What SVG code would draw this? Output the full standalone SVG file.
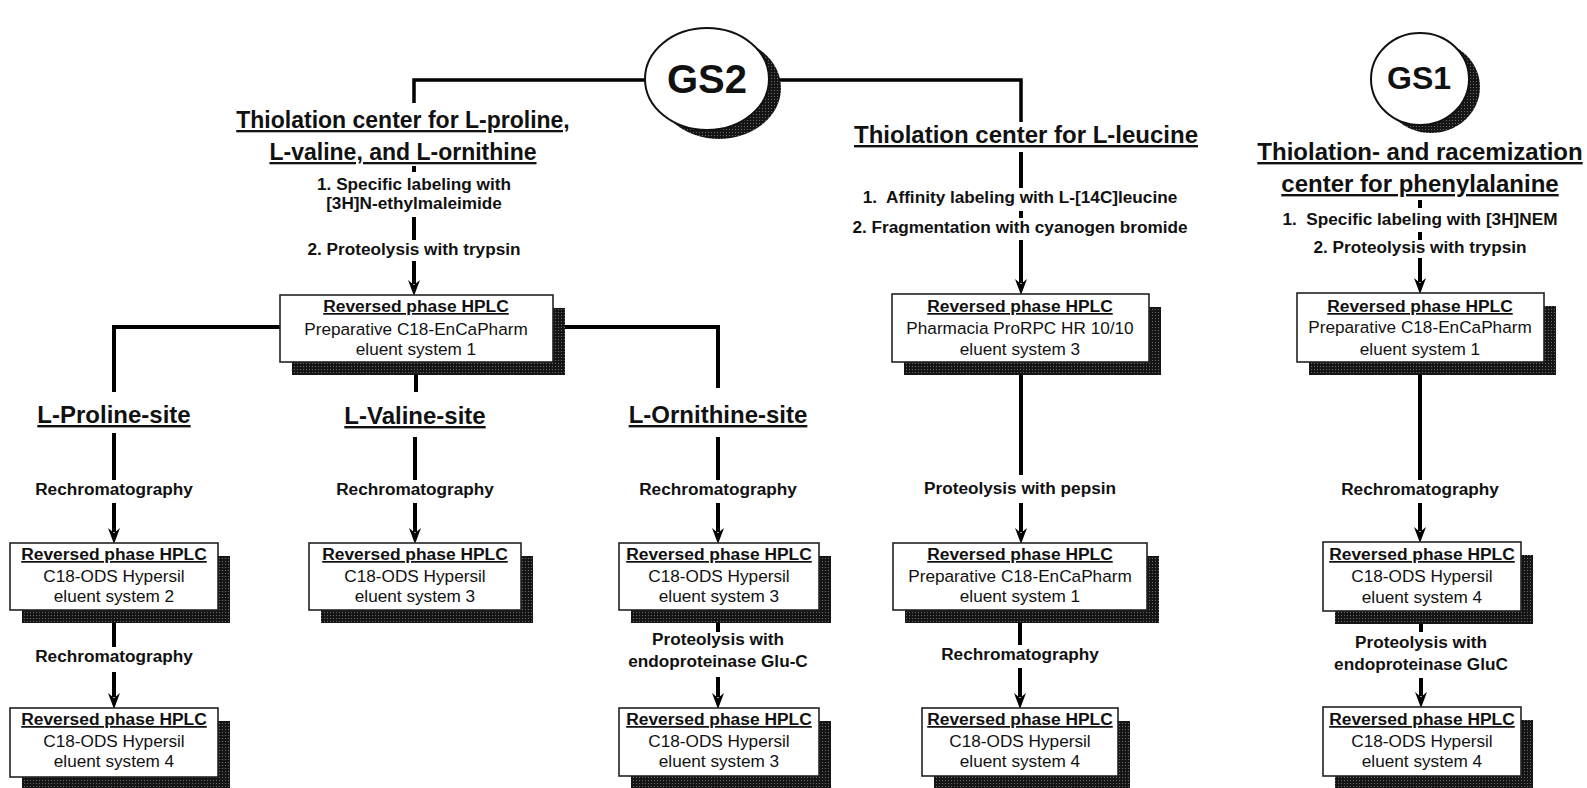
<svg xmlns="http://www.w3.org/2000/svg" width="1587" height="788" viewBox="0 0 1587 788">
<style>
.t{font-family:"Liberation Sans",Arial,Helvetica,sans-serif;text-anchor:middle;fill:#111}
.title{font-size:24px;font-weight:bold;text-decoration:underline}
.lbl{font-size:17.2px;font-weight:bold}
.hd{font-size:17.4px;font-weight:bold;text-decoration:underline}
.bd{font-size:17.2px}
.gs{font-weight:bold}
.box{fill:#fff;stroke:#222;stroke-width:1.6}
.sh{fill:url(#hatch)}
.circ{fill:#fff;stroke:#111;stroke-width:2}
.ln{fill:none;stroke:#000;stroke-width:4}
.ln2{fill:none;stroke:#000;stroke-width:3.5}
.ar{fill:none;stroke:#000;stroke-width:4;marker-end:url(#ah)}
</style>
<defs>
<pattern id="hatch" width="3" height="3" patternUnits="userSpaceOnUse">
<rect width="3" height="3" fill="#151515"/><rect width="1" height="1" fill="#6a6a6a"/>
</pattern>
<marker id="ah" markerUnits="userSpaceOnUse" viewBox="0 0 16 12" markerWidth="16" markerHeight="12" refX="4" refY="6" orient="auto">
<path d="M0,0 L16,6 L0,12 L5,6 z" fill="#000"/>
</marker>
</defs>
<rect width="1587" height="788" fill="#fff"/>

<g id="connectors">
<path class="ln2" d="M646,80 H414 V103"/>
<path class="ln2" d="M768,80 H1021 V122"/>
<line class="ln" x1="414" y1="166" x2="414" y2="172"/>
<line class="ln" x1="414" y1="217" x2="414" y2="240"/>
<line class="ar" x1="414" y1="261" x2="414" y2="284"/>
<line class="ln" x1="1021" y1="152" x2="1021" y2="188"/>
<line class="ln" x1="1021" y1="211" x2="1021" y2="218"/>
<line class="ar" x1="1021" y1="240" x2="1021" y2="283"/>
<line class="ln" x1="1420" y1="200" x2="1420" y2="208"/>
<line class="ln" x1="1420" y1="232" x2="1420" y2="240"/>
<line class="ar" x1="1420" y1="258" x2="1420" y2="282"/>
<path class="ln" d="M280,327 H114 V392"/>
<path class="ln" d="M553,327 H718 V388"/>
<line class="ln" x1="416" y1="362" x2="416" y2="392"/>
<line class="ln" x1="114" y1="433" x2="114" y2="480"/>
<line class="ar" x1="114" y1="503" x2="114" y2="532"/>
<line class="ln" x1="415" y1="437" x2="415" y2="480"/>
<line class="ar" x1="415" y1="503" x2="415" y2="532"/>
<line class="ln" x1="718" y1="437" x2="718" y2="480"/>
<line class="ar" x1="718" y1="503" x2="718" y2="532"/>
<line class="ln" x1="1021" y1="362" x2="1021" y2="475"/>
<line class="ar" x1="1021" y1="503" x2="1021" y2="532"/>
<line class="ln" x1="1420" y1="362" x2="1420" y2="480"/>
<line class="ar" x1="1420" y1="503" x2="1420" y2="531"/>
<line class="ln" x1="114" y1="610" x2="114" y2="647"/>
<line class="ar" x1="114" y1="672" x2="114" y2="697"/>
<line class="ln" x1="718" y1="610" x2="718" y2="632"/>
<line class="ar" x1="718" y1="677" x2="718" y2="697"/>
<line class="ln" x1="1020" y1="610" x2="1020" y2="645"/>
<line class="ar" x1="1020" y1="668" x2="1020" y2="697"/>
<line class="ln" x1="1421" y1="611" x2="1421" y2="632"/>
<line class="ar" x1="1421" y1="678" x2="1421" y2="696"/>
</g>

<g id="GS2">
<ellipse class="sh" cx="719" cy="88" rx="62" ry="51"/>
<ellipse class="circ" cx="707" cy="79" rx="62" ry="51"/>
<text class="t gs" x="707" y="93" font-size="40">GS2</text>
</g>

<g id="GS1">
<ellipse class="sh" cx="1431" cy="87" rx="49" ry="46"/>
<ellipse class="circ" cx="1420" cy="79" rx="49" ry="46"/>
<text class="t gs" x="1419" y="89" font-size="32">GS1</text>
</g>

<g id="center-pro-val-orn">
<text class="t title" x="403" y="128" style="font-size:23px">Thiolation center for L-proline,</text>
<text class="t title" x="403" y="160" style="font-size:23px">L-valine, and L-ornithine</text>
<text class="t lbl" x="414" y="190">1. Specific labeling with</text>
<text class="t lbl" x="414" y="209">[3H]N-ethylmaleimide</text>
<text class="t lbl" x="414" y="255">2. Proteolysis with trypsin</text>
</g>

<g id="center-leu">
<text class="t title" x="1026" y="143">Thiolation center for L-leucine</text>
<text class="t lbl" x="1020" y="203" xml:space="preserve">1.  Affinity labeling with L-[14C]leucine</text>
<text class="t lbl" x="1020" y="233">2. Fragmentation with cyanogen bromide</text>
</g>

<g id="center-phe">
<text class="t title" x="1420" y="160">Thiolation- and racemization</text>
<text class="t title" x="1420" y="192">center for phenylalanine</text>
<text class="t lbl" x="1420" y="225" xml:space="preserve">1.  Specific labeling with [3H]NEM</text>
<text class="t lbl" x="1420" y="253">2. Proteolysis with trypsin</text>
</g>

<g id="box-main">
<rect class="sh" x="292" y="308" width="273" height="67"/>
<rect class="box" x="280" y="295" width="273" height="67"/>
<text class="t hd" x="416" y="312">Reversed phase HPLC</text>
<text class="t bd" x="416" y="335">Preparative C18-EnCaPharm</text>
<text class="t bd" x="416" y="355">eluent system 1</text>
</g>

<g id="site-pro">
<text class="t title" x="114" y="423">L-Proline-site</text>
<text class="t lbl" x="114" y="495">Rechromatography</text>
</g>
<g id="site-val">
<text class="t title" x="415" y="424">L-Valine-site</text>
<text class="t lbl" x="415" y="495">Rechromatography</text>
</g>
<g id="site-orn">
<text class="t title" x="718" y="423">L-Ornithine-site</text>
<text class="t lbl" x="718" y="495">Rechromatography</text>
</g>

<g id="box-pro1">
<rect class="sh" x="22" y="556" width="208" height="67"/>
<rect class="box" x="10" y="543" width="208" height="67"/>
<text class="t hd" x="114" y="560">Reversed phase HPLC</text>
<text class="t bd" x="114" y="582">C18-ODS Hypersil</text>
<text class="t bd" x="114" y="602">eluent system 2</text>
</g>
<g id="label-pro2">
<text class="t lbl" x="114" y="662">Rechromatography</text>
</g>
<g id="box-pro2">
<rect class="sh" x="22" y="721" width="208" height="69"/>
<rect class="box" x="10" y="708" width="208" height="69"/>
<text class="t hd" x="114" y="725">Reversed phase HPLC</text>
<text class="t bd" x="114" y="747">C18-ODS Hypersil</text>
<text class="t bd" x="114" y="767">eluent system 4</text>
</g>

<g id="box-val1">
<rect class="sh" x="321" y="556" width="212" height="67"/>
<rect class="box" x="309" y="543" width="212" height="67"/>
<text class="t hd" x="415" y="560">Reversed phase HPLC</text>
<text class="t bd" x="415" y="582">C18-ODS Hypersil</text>
<text class="t bd" x="415" y="602">eluent system 3</text>
</g>

<g id="box-orn1">
<rect class="sh" x="631" y="556" width="200" height="67"/>
<rect class="box" x="619" y="543" width="200" height="67"/>
<text class="t hd" x="719" y="560">Reversed phase HPLC</text>
<text class="t bd" x="719" y="582">C18-ODS Hypersil</text>
<text class="t bd" x="719" y="602">eluent system 3</text>
</g>
<g id="label-orn2">
<text class="t lbl" x="718" y="645">Proteolysis with</text>
<text class="t lbl" x="718" y="667">endoproteinase Glu-C</text>
</g>
<g id="box-orn2">
<rect class="sh" x="631" y="721" width="200" height="68"/>
<rect class="box" x="619" y="708" width="200" height="68"/>
<text class="t hd" x="719" y="725">Reversed phase HPLC</text>
<text class="t bd" x="719" y="747">C18-ODS Hypersil</text>
<text class="t bd" x="719" y="767">eluent system 3</text>
</g>

<g id="box-leu1">
<rect class="sh" x="904" y="307" width="257" height="68"/>
<rect class="box" x="892" y="294" width="257" height="68"/>
<text class="t hd" x="1020" y="312">Reversed phase HPLC</text>
<text class="t bd" x="1020" y="334">Pharmacia ProRPC HR 10/10</text>
<text class="t bd" x="1020" y="355">eluent system 3</text>
</g>
<g id="label-leu1">
<text class="t lbl" x="1020" y="494">Proteolysis with pepsin</text>
</g>
<g id="box-leu2">
<rect class="sh" x="905" y="556" width="254" height="67"/>
<rect class="box" x="893" y="543" width="254" height="67"/>
<text class="t hd" x="1020" y="560">Reversed phase HPLC</text>
<text class="t bd" x="1020" y="582">Preparative C18-EnCaPharm</text>
<text class="t bd" x="1020" y="602">eluent system 1</text>
</g>
<g id="label-leu2">
<text class="t lbl" x="1020" y="660">Rechromatography</text>
</g>
<g id="box-leu3">
<rect class="sh" x="934" y="721" width="196" height="68"/>
<rect class="box" x="922" y="708" width="196" height="68"/>
<text class="t hd" x="1020" y="725">Reversed phase HPLC</text>
<text class="t bd" x="1020" y="747">C18-ODS Hypersil</text>
<text class="t bd" x="1020" y="767">eluent system 4</text>
</g>

<g id="box-phe1">
<rect class="sh" x="1309" y="306" width="247" height="69"/>
<rect class="box" x="1297" y="293" width="247" height="69"/>
<text class="t hd" x="1420" y="312">Reversed phase HPLC</text>
<text class="t bd" x="1420" y="333">Preparative C18-EnCaPharm</text>
<text class="t bd" x="1420" y="355">eluent system 1</text>
</g>
<g id="label-phe1">
<text class="t lbl" x="1420" y="495">Rechromatography</text>
</g>
<g id="box-phe2">
<rect class="sh" x="1335" y="555" width="198" height="69"/>
<rect class="box" x="1323" y="542" width="198" height="69"/>
<text class="t hd" x="1422" y="560">Reversed phase HPLC</text>
<text class="t bd" x="1422" y="582">C18-ODS Hypersil</text>
<text class="t bd" x="1422" y="603">eluent system 4</text>
</g>
<g id="label-phe2">
<text class="t lbl" x="1421" y="648">Proteolysis with</text>
<text class="t lbl" x="1421" y="670">endoproteinase GluC</text>
</g>
<g id="box-phe3">
<rect class="sh" x="1335" y="720" width="198" height="69"/>
<rect class="box" x="1323" y="707" width="198" height="69"/>
<text class="t hd" x="1422" y="725">Reversed phase HPLC</text>
<text class="t bd" x="1422" y="747">C18-ODS Hypersil</text>
<text class="t bd" x="1422" y="767">eluent system 4</text>
</g>
</svg>
